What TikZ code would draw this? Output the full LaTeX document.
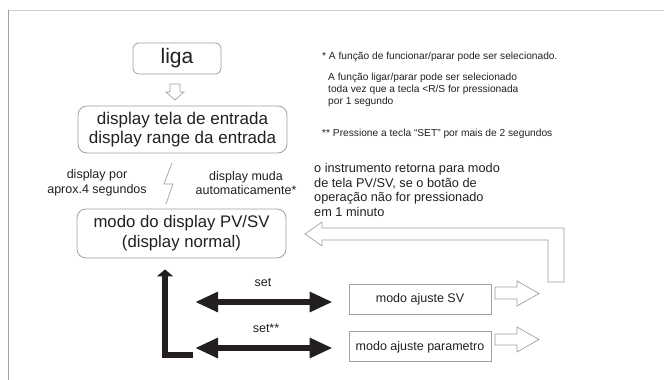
\documentclass[tikz,border=0pt]{standalone}
\usepackage{fontspec}
\setmainfont{Liberation Sans}
\usetikzlibrary{positioning, arrows.meta}
\definecolor{diagink}{HTML}{231F20}
\definecolor{diagline}{HTML}{A0A0A0}
\definecolor{diagframe}{HTML}{D0D0D0}

\begin{document}
\begin{tikzpicture}[
  x=1pt, y=-1pt,
  node distance=17pt,
  modebox/.style={rectangle, rounded corners=9pt, draw=diagline, line width=0.8pt, align=center, text=diagink, inner sep=0pt},
  adjbox/.style={rectangle, draw=diagline, line width=0.8pt, minimum width=142pt, minimum height=30pt, inner sep=0pt, text=diagink, font=\fontsize{12.5}{14}\selectfont},
  note/.style={anchor=west, align=left, text=diagink, inner sep=0pt, font=\fontsize{10.2}{11.7}\selectfont},
  label/.style={align=center, text=diagink, inner sep=0pt, font=\fontsize{12.5}{14.5}\selectfont},
  hollow/.style={draw=diagline, line width=0.7pt, fill=white, line join=miter},
  bigarrow/.style={draw=diagink, line width=6.5pt, {Triangle[length=23pt,width=19pt]}-{Triangle[length=23pt,width=19pt]}},
]
\useasboundingbox (0,0) rectangle (664,380);
\draw[diagframe, line width=1pt] (8,10) -- (664,10);
\draw[diagline, line width=1pt] (8,10) -- (8,380);

\node[modebox, rounded corners=6pt, minimum width=88pt, minimum height=31pt, font=\fontsize{21}{23}\selectfont] (liga) at (177,58.5) {liga};
\node[modebox, minimum width=209pt, minimum height=47pt, font=\fontsize{17}{18.5}\selectfont] (entrada) at (182.5,129.5) {display tela de entrada\\display range da entrada};
\node[modebox, minimum width=209pt, minimum height=49pt, font=\fontsize{16.75}{20}\selectfont] (pvsv) at (181.5,233.5) {modo do display PV/SV\\(display normal)};
\node[adjbox] (sv) at (420,299) {modo ajuste SV};
\node[adjbox, below=17pt of sv] (param) {modo ajuste parametro};

\draw[hollow] (170,84) -- (180,84) -- (180,92) -- (184,92) -- (175,100) -- (166,92) -- (170,92) -- cycle;
\draw[diagline, line width=0.7pt] (172,163) -- (164,184) -- (173,184) -- (166,204);

\node[label] (por) at (97,183) {display por\\aprox.4 segundos};
\node[label] (muda) at (246,183) {display muda\\automaticamente*};

\node[note] (nota1) at (322,57) {* A função de funcionar/parar pode ser selecionado.};
\node[note] (nota2) at (328,90) {A função ligar/parar pode ser selecionado\\toda vez que a tecla <R/S for pressionada\\por 1 segundo};
\node[note] (nota3) at (322,134) {** Pressione a tecla ``SET'' por mais de 2 segundos};
\node[note, font=\fontsize{12.75}{14.7}\selectfont] (retorna) at (314,190) {o instrumento retorna para modo\\de tela PV/SV, se o botão de\\operação não for pressionado\\em 1 minuto};

% retorno ao display normal
\draw[hollow] (305,234) -- (322,222) -- (322,228) -- (564,228) -- (564,282) -- (548,282) -- (548,240) -- (322,240) -- (322,246) -- cycle;
\draw[hollow] (495,287) -- (517,287) -- (517,281) -- (539,293.5) -- (517,306) -- (517,299) -- (495,299) -- cycle;
\draw[hollow] (495,334) -- (517,334) -- (517,327) -- (539,339.5) -- (517,352) -- (517,345) -- (495,345) -- cycle;

\node[label] (setlbl) at (263,283) {set};
\node[label] (setstar) at (266,328) {set**};

\coordinate (setA) at (195,302);
\coordinate (setB) at (195,348);
\coordinate (lfoot) at (193,355);
\draw[bigarrow, shorten >=16pt] (setA) -- (setA -| sv.west);
\draw[bigarrow, shorten >=16pt] (setB) -- (setB -| param.west);
\draw[draw=diagink, line width=6pt, -{Triangle[length=7pt,width=16pt]}, shorten >=11pt] (lfoot) -| ([xshift=-16.5pt]pvsv.south);
\end{tikzpicture}
\end{document}
